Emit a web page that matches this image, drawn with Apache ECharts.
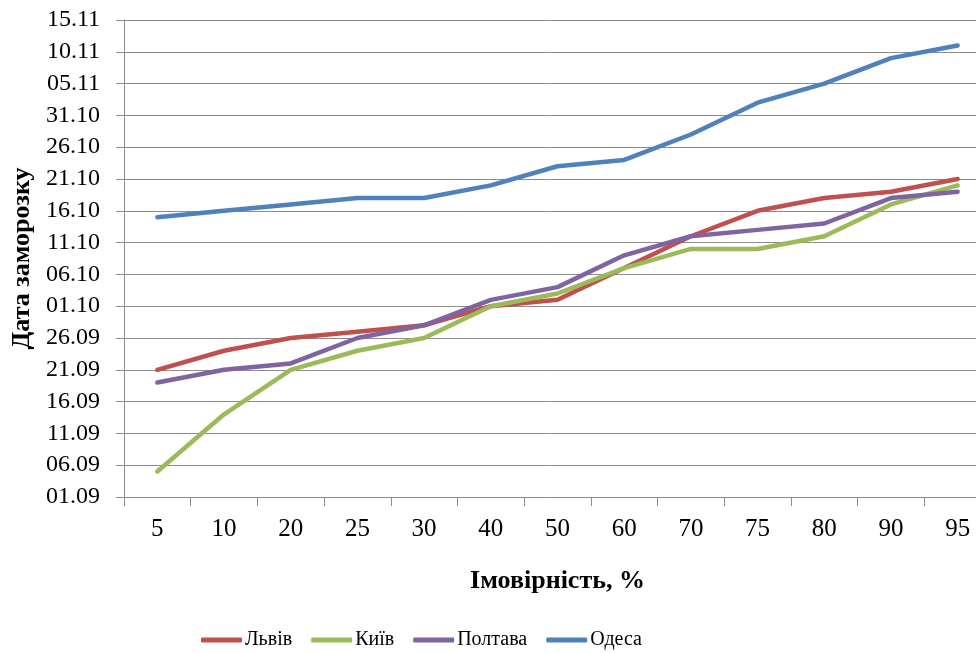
<!DOCTYPE html>
<html>
<head>
<meta charset="utf-8">
<script src="https://cdn.jsdelivr.net/npm/echarts@6/dist/echarts.min.js"></script>
<style>
  html, body { margin: 0; padding: 0; background: #ffffff; }
  #chart { width: 976px; height: 653px; }
</style>
</head>
<body>
<div id="chart"></div>
<script>
// Probability of frost date (%) and the frost date for each city,
// stored as day offsets from 1 September.
const categories = ['5', '10', '20', '25', '30', '40', '50', '60', '70', '75', '80', '90', '95'];
const lviv    = [20, 23, 25, 26, 27, 30, 31, 36, 41, 45, 47, 48, 50];
const kyiv    = [4, 13, 20, 23, 25, 30, 32, 36, 39, 39, 41, 46, 49];
const poltava = [18, 20, 21, 25, 27, 31, 33, 38, 41, 42, 43, 47, 48];
const odesa   = [44, 45, 46, 47, 47, 49, 52, 53, 57, 62, 65, 69, 71];
const seriesNames = ['Львів', 'Київ', 'Полтава', 'Одеса'];
const seriesColors = ['#C0504D', '#9BBB59', '#8064A2', '#4F81BD'];

// Turns a day offset into a "dd.mm" label.
function dayLabel(v) {
  const d = new Date(Date.UTC(2013, 8, 1) + v * 86400000);
  const dd = String(d.getUTCDate()).padStart(2, '0');
  const mm = String(d.getUTCMonth() + 1).padStart(2, '0');
  return dd + '.' + mm;
}

const font = '"Liberation Serif", "Times New Roman", serif';
const chart = echarts.init(document.getElementById('chart'), null, { renderer: 'canvas' });

const values = [lviv, kyiv, poltava, odesa];
chart.setOption({
  backgroundColor: '#ffffff',
  animation: false,
  color: seriesColors,
  textStyle: { fontFamily: font, color: '#000' },
  grid: { left: 124, top: 20, width: 867, height: 477, containLabel: false, outerBoundsMode: 'none' },
  legend: {
    data: seriesNames,
    top: 625,
    left: 196,
    icon: 'roundRect',
    itemWidth: 41,
    itemHeight: 5,
    itemGap: 19,
    formatter: '{t|{name}}',
    textStyle: {
      fontFamily: font, fontSize: 20, color: '#000',
      rich: { t: { fontFamily: font, fontSize: 20, color: '#000', padding: [0, 0, 0, -2] } }
    }
  },
  xAxis: {
    type: 'category',
    data: categories,
    boundaryGap: true,
    name: 'Імовірність, %',
    nameLocation: 'middle',
    nameGap: 71,
    nameTextStyle: { fontFamily: font, fontSize: 26, fontWeight: 'bold', color: '#000' },
    axisLine: { lineStyle: { color: '#8c8c8c', width: 1 } },
    axisTick: { show: true, length: 9, lineStyle: { color: '#8c8c8c' } },
    axisLabel: { fontFamily: font, fontSize: 25, color: '#000', margin: 20 },
    splitLine: { show: false }
  },
  yAxis: {
    type: 'value',
    min: 0,
    max: 75,
    interval: 5,
    name: 'Дата заморозку',
    nameLocation: 'middle',
    nameGap: 89,
    nameRotate: 90,
    nameTextStyle: { fontFamily: font, fontSize: 26, fontWeight: 'bold', color: '#000' },
    axisLine: { show: true, lineStyle: { color: '#8c8c8c', width: 1 } },
    axisTick: { show: true, length: 8, lineStyle: { color: '#8c8c8c' } },
    axisLabel: { fontFamily: font, fontSize: 24, color: '#000', margin: 24, formatter: dayLabel },
    splitLine: { show: true, lineStyle: { color: '#8c8c8c', width: 1 } }
  },
  series: seriesNames.map((name, i) => ({
    name: name,
    type: 'line',
    data: values[i],
    symbol: 'none',
    lineStyle: { width: 4.5, color: seriesColors[i], cap: 'round', join: 'round' },
    itemStyle: { color: seriesColors[i] }
  }))
});
</script>
</body>
</html>
